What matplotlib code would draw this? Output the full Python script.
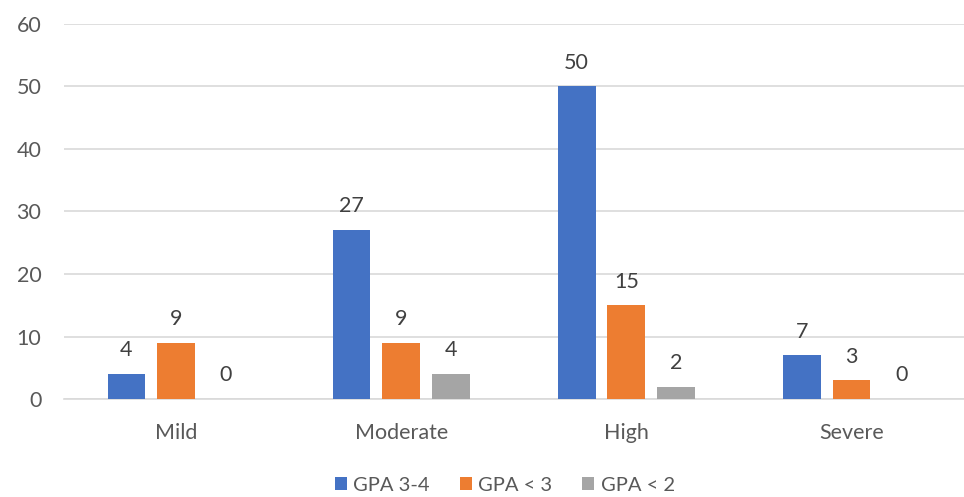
import numpy as np
import matplotlib.pyplot as plt

plt.rcParams['font.family'] = ['Lato', 'DejaVu Sans']

categories = ['Mild', 'Moderate', 'High', 'Severe']
series_names = ['GPA 3-4', 'GPA < 3', 'GPA < 2']
gpa_34 = [4, 27, 50, 7]
gpa_lt3 = [9, 9, 15, 3]
gpa_lt2 = [0, 4, 2, 0]
colors = ['#4472C4', '#ED7D31', '#A5A5A5']

text_col = '#595959'

fig = plt.figure(figsize=(9.64, 4.97), dpi=100)
ax = fig.add_axes([0.066, 0.197, 0.934, 0.755])

x = np.arange(len(categories))
width = 0.168
step = 0.221
for i, (vals, name, c) in enumerate(zip([gpa_34, gpa_lt3, gpa_lt2], series_names, colors)):
    pos = x + (i - 1) * step
    bars = ax.bar(pos, vals, width, color=c, label=name, zorder=3)
    for p, v in zip(pos, vals):
        ax.text(p, v + 2.2, str(v), ha='center', va='bottom',
                fontsize=15.5, color='#404040')

ax.set_xlim(-0.5, len(categories) - 0.5)
ax.set_ylim(0, 60)
ax.set_yticks(range(0, 61, 10))
ax.set_xticks(x)
ax.set_xticklabels(categories)
ax.grid(axis='y', color='#D9D9D9', linewidth=1.2, zorder=0)
for s in ['top', 'right', 'left']:
    ax.spines[s].set_visible(False)
ax.spines['bottom'].set_color('#D9D9D9')
ax.spines['bottom'].set_linewidth(1.2)
ax.tick_params(axis='both', length=0, labelsize=15.5, colors=text_col)
ax.tick_params(axis='y', pad=16)
ax.tick_params(axis='x', pad=17)

ax.legend(loc='lower center', bbox_to_anchor=(0.49, -0.285), ncol=3,
          frameon=False, fontsize=14.5, handlelength=0.6, handleheight=0.6,
          handletextpad=0.3, columnspacing=1.5, labelcolor=text_col,
          borderpad=0.1)

fig.savefig('out.png', dpi=100)
